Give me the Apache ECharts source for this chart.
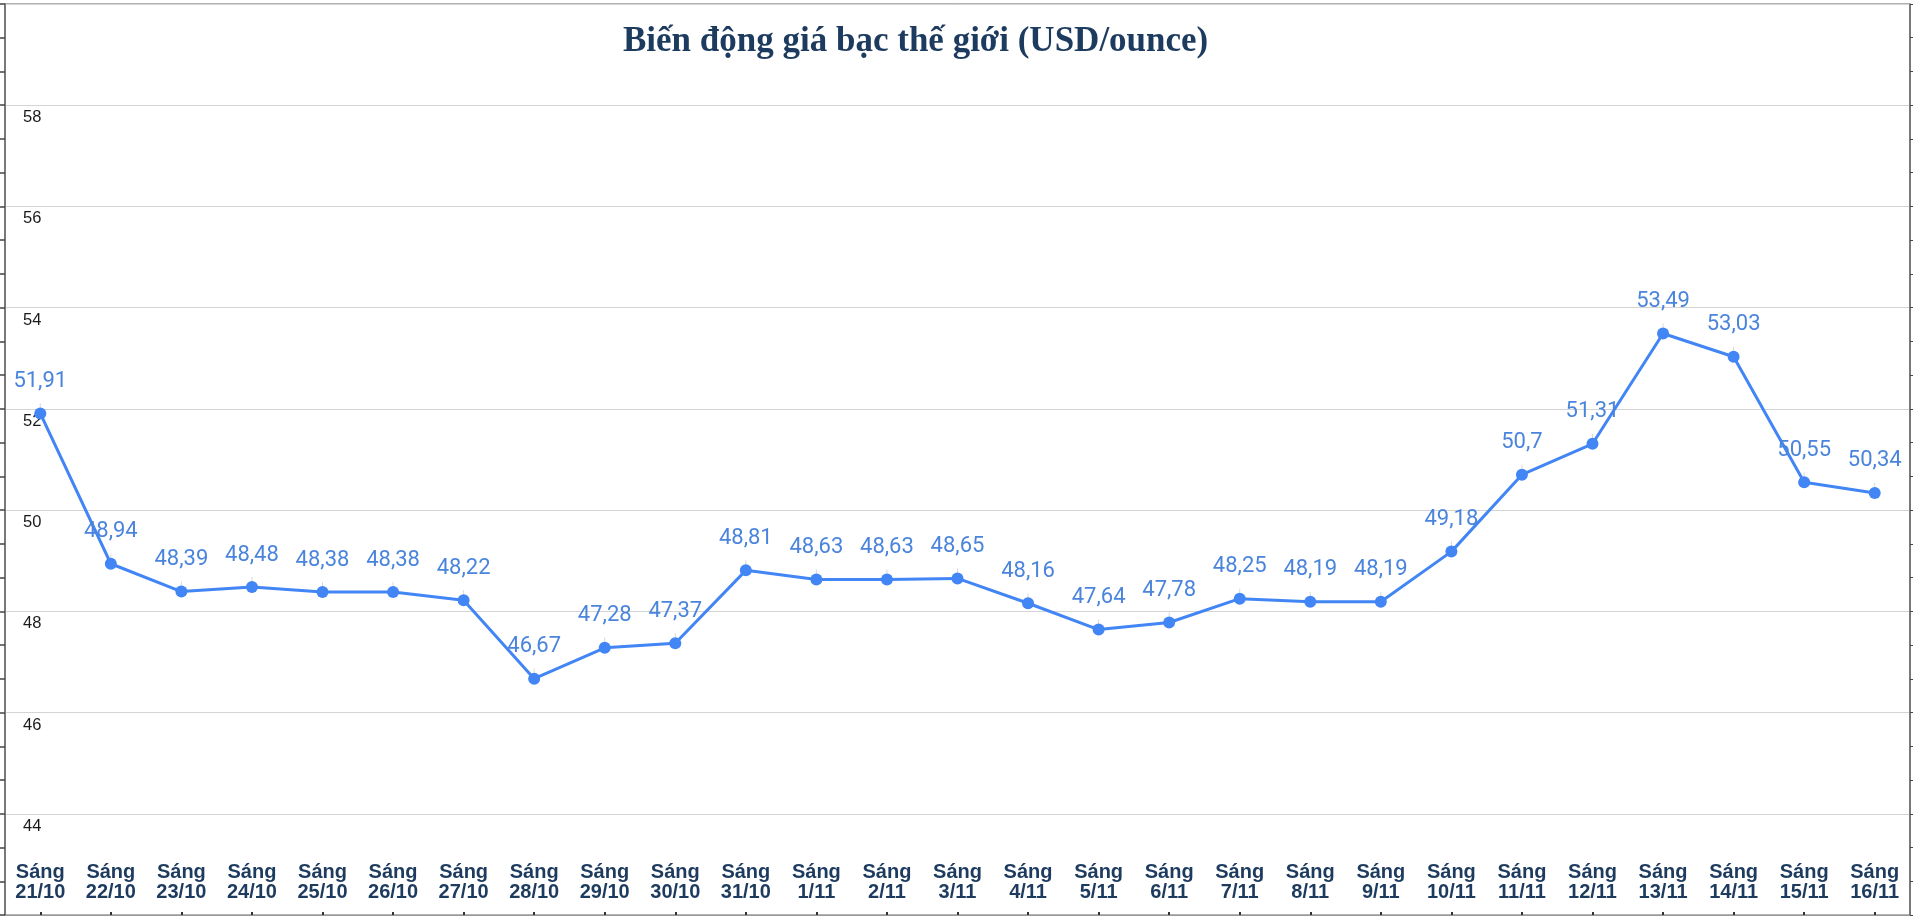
<!DOCTYPE html>
<html>
<head>
<meta charset="utf-8">
<script src="https://cdn.jsdelivr.net/npm/echarts@6/dist/echarts.min.js"></script>
<style>
html,body{margin:0;padding:0;background:#fff;}
#chart{width:1915px;height:918px;}
</style>
</head>
<body>
<div id="chart"></div>
<script>
const categories = ['Sáng\n21/10','Sáng\n22/10','Sáng\n23/10','Sáng\n24/10','Sáng\n25/10','Sáng\n26/10','Sáng\n27/10','Sáng\n28/10','Sáng\n29/10','Sáng\n30/10','Sáng\n31/10','Sáng\n1/11','Sáng\n2/11','Sáng\n3/11','Sáng\n4/11','Sáng\n5/11','Sáng\n6/11','Sáng\n7/11','Sáng\n8/11','Sáng\n9/11','Sáng\n10/11','Sáng\n11/11','Sáng\n12/11','Sáng\n13/11','Sáng\n14/11','Sáng\n15/11','Sáng\n16/11'];
const prices = [51.91,48.94,48.39,48.48,48.38,48.38,48.22,46.67,47.28,47.37,48.81,48.63,48.63,48.65,48.16,47.64,47.78,48.25,48.19,48.19,49.18,50.7,51.31,53.49,53.03,50.55,50.34];
const titleText = 'Biến động giá bạc thế giới (USD/ounce)';
const yMin = 42, yMax = 60, yStep = 2;

const chart = echarts.init(document.getElementById('chart'));
const frameColor = '#666';
chart.setOption({
  animation: false,
  backgroundColor: '#fff',
  title: {
    text: titleText,
    left: 618,
    top: 19,
    textStyle: {fontFamily: 'Liberation Serif', fontWeight: 'bold', fontSize: 35, color: '#1c3b5f'}
  },
  grid: {left: 5, right: 5, top: 4, bottom: 3, show: true, borderColor: frameColor, borderWidth: 1, containLabel: false},
  xAxis: {
    type: 'category',
    data: categories,
    boundaryGap: true,
    axisLine: {show: true, lineStyle: {color: '#999', width: 1}},
    axisTick: {show: true, inside: true, length: 3, alignWithLabel: true, lineStyle: {color: '#333', width: 2}},
    axisLabel: {inside: true, interval: 0, margin: 13, fontFamily: 'Liberation Sans', fontWeight: 'bold', fontSize: 20, lineHeight: 20, color: '#1d3b5e'},
    splitLine: {show: false}
  },
  yAxis: [{
    type: 'value',
    min: yMin, max: yMax, interval: yStep,
    position: 'left',
    axisLine: {show: true, lineStyle: {color: frameColor, width: 1.5}},
    axisTick: {show: true, length: 5, lineStyle: {color: '#444', width: 1.5}},
    minorTick: {show: true, splitNumber: 3, length: 5, lineStyle: {color: '#444', width: 1.5}},
    splitLine: {show: true, lineStyle: {color: '#d4d4d4', width: 1}},
    axisLabel: {inside: true, margin: 18, fontFamily: 'Liberation Sans', fontSize: 16.5, color: '#1a1a1a', verticalAlign: 'top', padding: [4,0,0,0], showMinLabel: false, showMaxLabel: false}
  }, {
    type: 'value',
    min: yMin, max: yMax, interval: yStep,
    position: 'right',
    axisLine: {show: true, lineStyle: {color: frameColor, width: 1.5}},
    axisTick: {show: true, length: 3, lineStyle: {color: '#444', width: 1}},
    minorTick: {show: true, splitNumber: 3, length: 3, lineStyle: {color: '#444', width: 1}},
    splitLine: {show: false},
    axisLabel: {show: false}
  }],
  series: [{
    type: 'line',
    data: prices,
    yAxisIndex: 0,
    symbol: 'circle',
    symbolSize: 12,
    lineStyle: {color: '#4285f4', width: 3},
    itemStyle: {color: '#4285f4'},
    label: {
      show: true,
      position: 'top',
      distance: 15,
      fontFamily: 'Roboto',
      fontSize: 22,
      color: '#4a84dc',
      formatter: p => String(p.value).replace('.', ',')
    },
    labelLine: {show: true, lineStyle: {color: '#d8d8d8', width: 1}}
  }]
});
</script>
</body>
</html>
